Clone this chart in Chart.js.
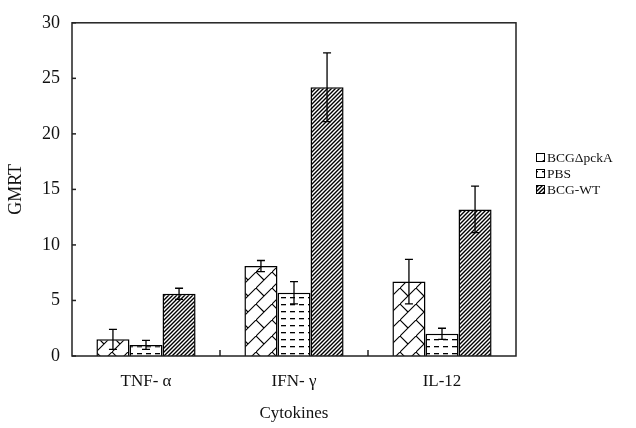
<!DOCTYPE html>
<html>
<head>
<meta charset="utf-8">
<script src="https://cdn.jsdelivr.net/npm/chart.js@4"></script>
<style>
  html, body { margin: 0; padding: 0; background: #fff; }
  #wrap { width: 636px; height: 428px; }
</style>
</head>
<body>
<div id="wrap"><canvas id="chart" width="636" height="428"></canvas></div>
<script>
// data
const categories = ['TNF- \u03b1', 'IFN- \u03b3', 'IL-12'];
const seriesNames = ['BCG\u0394pckA', 'PBS', 'BCG-WT'];
const pckaValues = [1.5, 8.1, 6.7];
const pckaErrors = [0.9, 0.5, 2.0];
const pbsValues = [1.0, 5.7, 2.0];
const pbsErrors = [0.4, 1.0, 0.5];
const wtValues = [5.6, 24.2, 13.2];
const wtErrors = [0.5, 3.1, 2.1];
const yTicks = [0, 5, 10, 15, 20, 25, 30];

const serif = "'Liberation Serif', 'DejaVu Serif', serif";

// fill patterns
function makePattern(size, draw) {
    const c = document.createElement('canvas');
    c.width = size[0];
    c.height = size[1];
    const g = c.getContext('2d');
    g.fillStyle = '#fff';
    g.fillRect(0, 0, c.width, c.height);
    g.strokeStyle = '#000';
    g.fillStyle = '#000';
    draw(g);
    return document.getElementById('chart').getContext('2d').createPattern(c, 'repeat');
}

// brick / weave look
const weave = makePattern([16, 16], g => {
    g.lineWidth = 1.1;
    g.beginPath();
    g.moveTo(-1, 17); g.lineTo(17, -1);
    g.moveTo(0, 0); g.lineTo(8, 8);
    g.stroke();
});
// short horizontal dashes
const dashes = makePattern([9, 7], g => {
    g.fillRect(2, 3, 5, 1.3);
});
// dense diagonal stripes
const stripes = makePattern([4, 4], g => {
    g.lineWidth = 1.4;
    g.beginPath();
    g.moveTo(-1, 5); g.lineTo(5, -1);
    g.moveTo(-1, 1); g.lineTo(1, -1);
    g.moveTo(3, 5); g.lineTo(5, 3);
    g.stroke();
});

const errors = [pckaErrors, pbsErrors, wtErrors];

// error bars, frame, inner ticks and a right-hand legend
const extras = {
    id: 'extras',
    afterDatasetsDraw(chart) {
        const ctx = chart.ctx;
        const y = chart.scales.y;
        const area = chart.chartArea;
        ctx.save();
        ctx.strokeStyle = '#000';
        ctx.lineWidth = 1.3;
        chart.data.datasets.forEach((ds, i) => {
            chart.getDatasetMeta(i).data.forEach((bar, j) => {
                const v = ds.data[j], e = errors[i][j];
                const top = y.getPixelForValue(v + e);
                const bot = y.getPixelForValue(v - e);
                ctx.beginPath();
                ctx.moveTo(bar.x, top); ctx.lineTo(bar.x, bot);
                ctx.moveTo(bar.x - 4, top); ctx.lineTo(bar.x + 4, top);
                ctx.moveTo(bar.x - 4, bot); ctx.lineTo(bar.x + 4, bot);
                ctx.stroke();
            });
        });
        // frame
        ctx.lineWidth = 1.5;
        ctx.strokeStyle = '#222';
        ctx.strokeRect(area.left, area.top, area.right - area.left, area.bottom - area.top);
        // y ticks pointing inward
        yTicks.forEach(t => {
            const py = y.getPixelForValue(t);
            ctx.beginPath();
            ctx.moveTo(area.left, py); ctx.lineTo(area.left + 4, py);
            ctx.stroke();
        });
        // category separators on the x axis
        const step = (area.right - area.left) / categories.length;
        for (let k = 1; k < categories.length; k++) {
            const px = area.left + step * k;
            ctx.beginPath();
            ctx.moveTo(px, area.bottom); ctx.lineTo(px, area.bottom - 6);
            ctx.stroke();
        }
        ctx.restore();
    },
    afterDraw(chart) {
        const ctx = chart.ctx;
        ctx.save();
        ctx.font = '13.5px ' + serif;
        ctx.textBaseline = 'middle';
        chart.data.datasets.forEach((ds, i) => {
            const cy = 157 + i * 16;
            ctx.fillStyle = ds.backgroundColor;
            ctx.fillRect(536, cy - 4, 8, 8);
            ctx.strokeStyle = '#000';
            ctx.lineWidth = 1;
            ctx.strokeRect(536.5, cy - 3.5, 8, 8);
            ctx.fillStyle = '#111';
            ctx.fillText(ds.label, 547, cy + 1);
        });
        ctx.restore();
    }
};

new Chart(document.getElementById('chart'), {
    type: 'bar',
    data: {
        labels: categories,
        datasets: [
            { label: seriesNames[0], data: pckaValues, backgroundColor: weave },
            { label: seriesNames[1], data: pbsValues, backgroundColor: dashes },
            { label: seriesNames[2], data: wtValues, backgroundColor: stripes }
        ].map(d => Object.assign(d, {
            borderColor: '#000',
            borderWidth: 1.5,
            categoryPercentage: 0.67,
            barPercentage: 1
        }))
    },
    options: {
        responsive: false,
        animation: false,
        layout: { padding: { top: 19, right: 120, left: 0, bottom: 0 } },
        plugins: {
            legend: { display: false },
            tooltip: { enabled: false }
        },
        scales: {
            x: {
                grid: { display: false, drawTicks: false },
                border: { display: false },
                ticks: { color: '#111', font: { family: serif, size: 17 }, padding: 15 },
                title: { display: true, text: 'Cytokines', color: '#111', font: { family: serif, size: 17 }, padding: { top: 8 } },
                afterFit(s) { s.height = 72; }
            },
            y: {
                min: 0,
                max: 30,
                grid: { display: false, drawTicks: false },
                border: { display: false },
                afterBuildTicks(s) { s.ticks = yTicks.map(v => ({ value: v })); },
                ticks: { color: '#111', font: { family: serif, size: 18 }, padding: 12 },
                title: { display: true, text: 'GMRT', color: '#111', font: { family: serif, size: 18 }, padding: { top: 5, bottom: 0 } },
                afterFit(s) { s.width = 72; }
            }
        }
    },
    plugins: [extras]
});
</script>
</body>
</html>
